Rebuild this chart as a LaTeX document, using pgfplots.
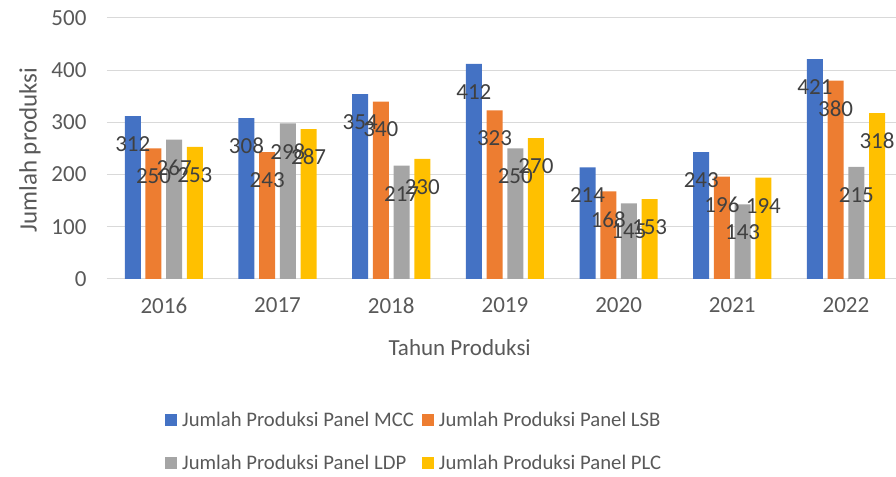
\documentclass[border=0pt]{standalone}
\usepackage{pgfplots}
\pgfplotsset{compat=1.18}
\usepackage{fontspec}
\setmainfont{Carlito}
\definecolor{cMCC}{HTML}{4472C4}
\definecolor{cLSB}{HTML}{ED7D31}
\definecolor{cLDP}{HTML}{A5A5A5}
\definecolor{cPLC}{HTML}{FFC000}
\definecolor{cgrid}{HTML}{D9D9D9}
\definecolor{ctext}{HTML}{595959}
\definecolor{clabel}{HTML}{404040}
\begin{document}
\begin{tikzpicture}
\begin{axis}[
  scale only axis, width=789pt, height=261pt,
  xmin=-0.5, xmax=6.44, ymin=0, ymax=500,
  ybar=4.7pt, bar width=16pt,
  xtick={0,1,2,3,4,5,6},
  xticklabels={2016,2017,2018,2019,2020,2021,2022},
  ytick={0,100,200,300,400,500},
  axis lines*=left,
  x axis line style={draw=cgrid, line width=1pt},
  y axis line style={draw=none},
  major tick length=0pt,
  ymajorgrids, grid style={cgrid, line width=1pt},
  /pgf/number format/assume math mode=true,
  ticklabel style={font=\fontsize{23}{27}\selectfont, text=ctext},
  yticklabel style={xshift=-17pt},
  xticklabel style={yshift=-15pt},
  xlabel={Tahun Produksi},
  ylabel={Jumlah produksi},
  xlabel style={at={(axis description cs:0.447,-0.264)}, anchor=center, font=\fontsize{23}{27}\selectfont, text=ctext},
  ylabel style={at={(axis description cs:-0.0976,0.494)}, anchor=center, rotate=0, font=\fontsize{25}{29}\selectfont, text=ctext},
  nodes near coords,
  every node near coord/.append style={anchor=center, yshift=-28pt, font=\fontsize{23}{27}\selectfont, text=clabel},
  legend columns=2,
  legend cell align=left,
  legend image code/.code={\path[#1, draw=none] (0pt,-6pt) rectangle (12pt,6pt);},
  legend style={at={(axis description cs:0.0735,-0.510)}, anchor=north west, draw=none, fill=none, inner sep=0pt,
    font=\fontsize{20.7}{24}\selectfont, text=ctext, row sep=27pt,
    nodes={inner sep=0pt, anchor=west},
    /tikz/every odd column/.append style={column sep=5pt},
    /tikz/every even column/.append style={column sep=8pt}},
]
\addplot[fill=cMCC, draw=none] coordinates {(0,312) (1,308) (2,354) (3,412) (4,214) (5,243) (6,421)};
\addplot[fill=cLSB, draw=none] coordinates {(0,250) (1,243) (2,340) (3,323) (4,168) (5,196) (6,380)};
\addplot[fill=cLDP, draw=none] coordinates {(0,267) (1,298) (2,217) (3,250) (4,145) (5,143) (6,215)};
\addplot[fill=cPLC, draw=none] coordinates {(0,253) (1,287) (2,230) (3,270) (4,153) (5,194) (6,318)};
\legend{Jumlah Produksi Panel MCC, Jumlah Produksi Panel LSB, Jumlah Produksi Panel LDP, Jumlah Produksi Panel PLC}
\coordinate (bbsw) at (rel axis cs:0,0);
\coordinate (bbne) at (rel axis cs:1,1);
\end{axis}
\pgfresetboundingbox
\path[use as bounding box] ([xshift=-107pt,yshift=-198pt]bbsw) rectangle ([yshift=18pt]bbne);
\end{tikzpicture}
\end{document}
